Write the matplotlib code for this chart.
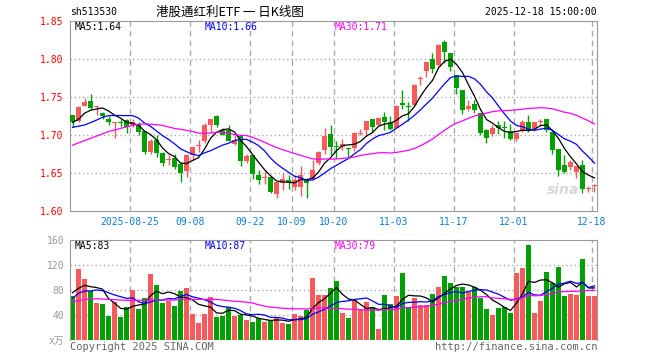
import matplotlib.pyplot as plt
import numpy as np
import pandas as pd

plt.rcParams['font.family'] = ['DejaVu Sans Mono', 'Noto Sans CJK SC']

# trading days 2025-08-11 .. 2025-12-18 (National Day holiday removed)
days = pd.bdate_range('2025-08-11', '2025-12-18')
holidays = pd.to_datetime(['2025-10-01', '2025-10-02', '2025-10-03',
                           '2025-10-06', '2025-10-07', '2025-10-08'])
days = days[~days.isin(holidays)]

opens = [1.727, 1.719, 1.739, 1.745, 1.737, 1.729, 1.721, 1.716, 1.717, 1.720,
         1.713, 1.715, 1.705, 1.678, 1.694, 1.677, 1.667, 1.670, 1.662, 1.653,
         1.674, 1.686, 1.692, 1.713, 1.725, 1.707, 1.707, 1.688, 1.699, 1.666,
         1.674, 1.648, 1.644, 1.645, 1.623, 1.637, 1.641, 1.632, 1.632, 1.643,
         1.643, 1.663, 1.681, 1.702, 1.686, 1.685, 1.683, 1.683, 1.702, 1.707,
         1.721, 1.714, 1.724, 1.718, 1.710, 1.742, 1.739, 1.740, 1.774, 1.784,
         1.800, 1.792, 1.823, 1.808, 1.779, 1.760, 1.734, 1.741, 1.729, 1.707,
         1.702, 1.713, 1.710, 1.705, 1.695, 1.706, 1.718, 1.708, 1.718, 1.721,
         1.705, 1.682, 1.661, 1.658, 1.652, 1.661, 1.630, 1.633]
highs = [1.727, 1.738, 1.749, 1.754, 1.739, 1.731, 1.725, 1.718, 1.722, 1.721,
         1.721, 1.718, 1.706, 1.695, 1.700, 1.678, 1.674, 1.675, 1.665, 1.675,
         1.686, 1.694, 1.716, 1.722, 1.727, 1.709, 1.713, 1.700, 1.700, 1.675,
         1.674, 1.655, 1.653, 1.645, 1.639, 1.650, 1.648, 1.648, 1.660, 1.644,
         1.667, 1.680, 1.710, 1.714, 1.692, 1.695, 1.685, 1.705, 1.708, 1.719,
         1.722, 1.724, 1.731, 1.725, 1.740, 1.760, 1.744, 1.767, 1.778, 1.796,
         1.808, 1.820, 1.826, 1.808, 1.779, 1.760, 1.747, 1.747, 1.729, 1.708,
         1.714, 1.719, 1.719, 1.715, 1.703, 1.720, 1.727, 1.718, 1.721, 1.722,
         1.705, 1.682, 1.674, 1.668, 1.660, 1.668, 1.633, 1.636]
lows = [1.711, 1.718, 1.738, 1.735, 1.727, 1.721, 1.713, 1.696, 1.711, 1.703,
        1.711, 1.700, 1.675, 1.675, 1.671, 1.659, 1.661, 1.656, 1.639, 1.645,
        1.667, 1.678, 1.690, 1.703, 1.711, 1.700, 1.692, 1.687, 1.660, 1.664,
        1.643, 1.636, 1.636, 1.624, 1.618, 1.628, 1.630, 1.628, 1.620, 1.617,
        1.641, 1.661, 1.675, 1.674, 1.670, 1.681, 1.671, 1.680, 1.700, 1.699,
        1.705, 1.713, 1.707, 1.707, 1.709, 1.734, 1.719, 1.738, 1.766, 1.777,
        1.782, 1.791, 1.795, 1.785, 1.755, 1.728, 1.732, 1.730, 1.700, 1.690,
        1.699, 1.702, 1.696, 1.694, 1.693, 1.705, 1.705, 1.706, 1.714, 1.705,
        1.676, 1.647, 1.650, 1.654, 1.644, 1.624, 1.626, 1.625]
closes = [1.718, 1.737, 1.744, 1.736, 1.738, 1.725, 1.717, 1.717, 1.716, 1.711,
          1.718, 1.705, 1.678, 1.693, 1.677, 1.664, 1.668, 1.658, 1.650, 1.674,
          1.684, 1.687, 1.714, 1.721, 1.714, 1.701, 1.692, 1.694, 1.666, 1.673,
          1.649, 1.641, 1.645, 1.626, 1.639, 1.643, 1.638, 1.641, 1.648, 1.637,
          1.654, 1.678, 1.699, 1.684, 1.684, 1.688, 1.682, 1.703, 1.703, 1.719,
          1.711, 1.723, 1.718, 1.708, 1.739, 1.740, 1.737, 1.766, 1.775, 1.796,
          1.787, 1.819, 1.809, 1.790, 1.762, 1.733, 1.739, 1.733, 1.703, 1.696,
          1.709, 1.709, 1.709, 1.695, 1.703, 1.718, 1.706, 1.718, 1.719, 1.707,
          1.681, 1.654, 1.652, 1.665, 1.660, 1.630, 1.631, 1.634]
volumes = [70.4, 113.6, 97.6, 78.4, 59.7, 57.6, 38.4, 61.3, 36.8, 52.3,
           80.0, 49.6, 67.2, 106.0, 88.0, 59.7, 62.9, 54.4, 78.4, 83.7,
           41.6, 27.7, 41.6, 68.8, 37.3, 38.4, 52.3, 38.4, 40.0, 32.0,
           28.8, 34.7, 28.8, 32.0, 36.3, 27.2, 25.6, 41.6, 38.4, 48.0,
           99.2, 72.0, 72.0, 83.2, 94.4, 43.2, 35.2, 64.0, 48.0, 60.8,
           52.3, 18.1, 72.0, 57.6, 70.4, 107.2, 50.7, 67.2, 56.0, 56.0,
           73.6, 84.8, 102.0, 91.7, 84.3, 84.8, 77.3, 84.3, 67.7, 49.6,
           40.0, 51.2, 52.8, 43.2, 107.0, 115.0, 152.0, 43.2, 62.4, 109.0,
           91.2, 116.8, 70.4, 73.6, 72.0, 130.0, 70.4, 70.4]

# moving-average values before a full window exists
ma5_head = [1.717, 1.721, 1.729, 1.733]
ma10_head = [1.7105, 1.712, 1.7136, 1.7167, 1.720, 1.7237, 1.7259, 1.726, 1.726]
ma30_head = [1.687, 1.690, 1.693, 1.696, 1.699, 1.702, 1.705, 1.707, 1.709, 1.711,
             1.713, 1.7145, 1.715, 1.7145, 1.714, 1.713, 1.711, 1.709, 1.708, 1.7065,
             1.705, 1.703, 1.7025, 1.703, 1.704, 1.704, 1.703, 1.701, 1.700]
vma5_head = [75.7, 82.7, 87.5, 85.3]
vma10_head = [66.7, 74.7, 78.4, 78.4, 80.0, 79.0, 75.7, 72.0, 69.3]
vma30_head = [61, 63, 65, 65.5, 66, 65.5, 65, 64.5, 64, 63.5,
              63.5, 63.5, 63.5, 64, 64, 64, 64, 64, 64.5, 65,
              65, 65, 65, 65, 65, 64, 63, 62, 61.5]

tick_dates = ['2025-08-25', '2025-09-08', '2025-09-22', '2025-10-09', '2025-10-20',
              '2025-11-03', '2025-11-17', '2025-12-01', '2025-12-18']


def moving_avg(values, n, head):
    out = pd.Series(values).rolling(n).mean().to_numpy()
    out[:n - 1] = head
    return out


ma5 = moving_avg(closes, 5, ma5_head)
ma10 = moving_avg(closes, 10, ma10_head)
ma30 = moving_avg(closes, 30, ma30_head)
vma5 = moving_avg(volumes, 5, vma5_head)
vma10 = moving_avg(volumes, 10, vma10_head)
vma30 = moving_avg(volumes, 30, vma30_head)

UP = '#f65a5a'
DOWN = '#00a000'
GRID = '#aaaaaa'
SPINE = '#999999'

o = np.array(opens)
c = np.array(closes)
x = np.arange(len(days))
colors = np.where(c >= o, UP, DOWN)

W, H = 660, 360
fig = plt.figure(figsize=(6.6, 3.6), dpi=100)
ax1 = fig.add_axes([70 / W, (H - 211.3) / H, 527 / W, 190 / H])
ax2 = fig.add_axes([70 / W, (H - 340) / H, 527 / W, 100 / H])

xlim = (-0.42, len(days) - 0.58)
tick_pos = [days.get_loc(pd.Timestamp(d)) - 0.42 for d in tick_dates]
tick_lab = [tick_dates[0]] + [d[5:] for d in tick_dates[1:]]

# price panel
for yv in [1.65, 1.70, 1.75, 1.80]:
    ax1.axhline(yv, color=GRID, lw=1, ls=(0, (1, 2)), zorder=0)
for xv in tick_pos:
    ax1.axvline(xv, color=GRID, lw=1, ls=(0, (4, 3)), zorder=0)
ax1.vlines(x, lows, highs, colors=colors, lw=1, zorder=2)
body = np.maximum(np.abs(c - o), 0.0013)
ax1.bar(x, body, bottom=np.minimum(o, c), width=0.8, color=colors, lw=0, zorder=3)
ax1.plot(x, ma5, color='black', lw=0.9, zorder=4)
ax1.plot(x, ma10, color='#0000ff', lw=0.9, zorder=4)
ax1.plot(x, ma30, color='#ff00ff', lw=0.9, zorder=4)
ax1.set_xlim(*xlim)
ax1.set_ylim(1.60, 1.85)
ax1.set_yticks([1.60, 1.65, 1.70, 1.75, 1.80, 1.85])
ax1.set_yticklabels(['1.60', '1.65', '1.70', '1.75', '1.80', '1.85'])
ax1.set_xticks(tick_pos)
ax1.set_xticklabels(tick_lab)
ax1.tick_params(axis='y', length=0, pad=5, colors='#ff0000', labelsize=7)
ax1.tick_params(axis='x', length=0, pad=4, colors='#0a7fd8', labelsize=7)
for s in ax1.spines.values():
    s.set_color(SPINE)
ax1.text(0.935, 0.09, 'sina', transform=ax1.transAxes, fontsize=10, fontweight='bold',
         style='italic', color='#d8d8d8', family='DejaVu Sans', ha='center', zorder=1)

# volume panel
for yv in [40, 80, 120]:
    ax2.axhline(yv, color=GRID, lw=1, ls=(0, (1, 2)), zorder=0)
for xv in tick_pos:
    ax2.axvline(xv, color=GRID, lw=1, ls=(0, (4, 3)), zorder=0)
ax2.bar(x, volumes, width=0.8, color=colors, lw=0, zorder=2)
ax2.plot(x, vma5, color='black', lw=0.9, zorder=4)
ax2.plot(x, vma10, color='#0000ff', lw=0.9, zorder=4)
ax2.plot(x, vma30, color='#ff00ff', lw=0.9, zorder=4)
ax2.set_xlim(*xlim)
ax2.set_ylim(0, 160)
ax2.set_yticks([0, 40, 80, 120, 160])
ax2.set_yticklabels(['x万', '40', '80', '120', '160'])
ax2.set_xticks([])
ax2.tick_params(axis='y', length=0, pad=4, colors='#999999', labelsize=7)
for s in ax2.spines.values():
    s.set_color(SPINE)
ax2.spines['bottom'].set_visible(False)


def ftext(px, py, s, size=7, **kw):
    fig.text(px / W, 1 - py / H, s, va='center', fontsize=size, **kw)


ftext(70, 12, 'sh513530', color='black')
ftext(230, 12, '港股通红利ETF 一 日K线图', size=9, color='black', ha='center',
      family=['Noto Sans CJK SC'])
ftext(597, 12, '2025-12-18 15:00:00', color='black', ha='right')
ftext(75, 27, f'MA5:{ma5[-1]:.2f}', color='black')
ftext(205, 27, f'MA10:{ma10[-1]:.2f}', color='#0000ff')
ftext(335, 27, f'MA30:{ma30[-1]:.2f}', color='#ff00ff')
ftext(75, 246, f'MA5:{vma5[-1]:.0f}', color='black')
ftext(205, 246, f'MA10:{vma10[-1]:.0f}', color='#0000ff')
ftext(335, 246, f'MA30:{vma30[-1]:.0f}', color='#ff00ff')
ftext(70, 347, 'Copyright 2025 SINA.COM', size=7.5, color='#666666')
ftext(597, 347, 'http://finance.sina.com.cn', size=7.5, color='#666666', ha='right')

fig.savefig('out.png', dpi=100, facecolor='white')
